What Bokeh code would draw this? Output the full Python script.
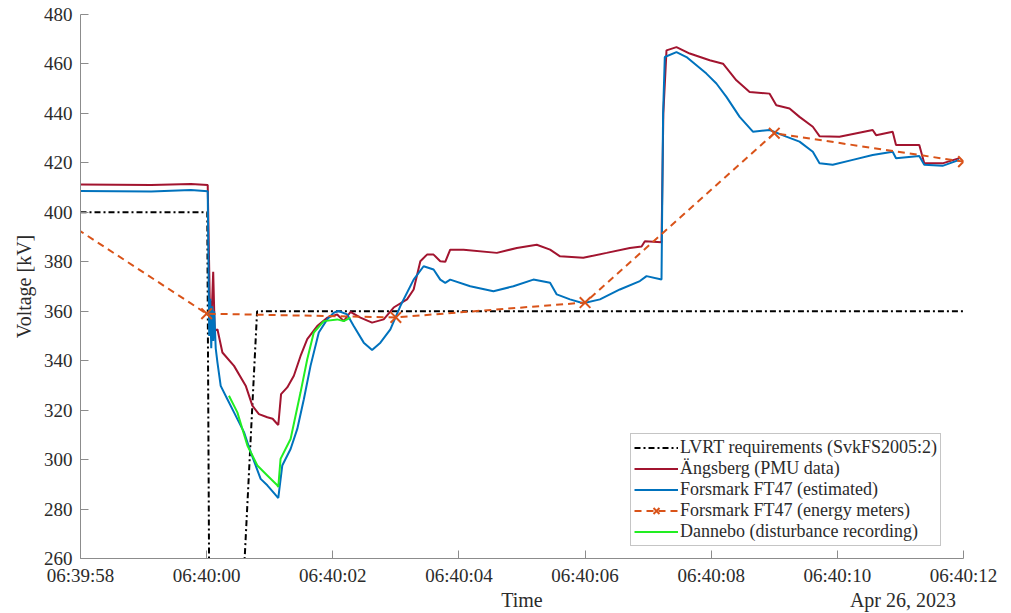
from datetime import datetime, timezone
from bokeh.plotting import figure
from bokeh.models import (Range1d, FixedTicker, DatetimeTickFormatter, Legend,
                          LegendItem, DatetimeAxis)
from bokeh.embed import file_html
from bokeh.resources import INLINE

# ---------------- data (time in seconds after 06:39:58, 26 Apr 2023) ----------------
x_tick_seconds = [0, 2, 4, 6, 8, 10, 12, 14]
y_ticks = [260, 280, 300, 320, 340, 360, 380, 400, 420, 440, 460, 480]

lvrt_t = [0.0, 2.01, 2.09, 2.09, 2.80, 14.0]
lvrt_v = [400, 400, 0, 0, 360, 360]

angs_t = [0.0, 1.12, 1.75, 2.017, 2.049, 2.081, 2.104, 2.128, 2.171, 2.25, 2.434, 2.619,
          2.725, 2.829, 2.962, 3.046, 3.12, 3.136, 3.18, 3.278, 3.383, 3.489, 3.595, 3.753,
          3.911, 4.07, 4.174, 4.28, 4.438, 4.623, 4.807, 4.965, 5.177, 5.282, 5.388, 5.494,
          5.598, 5.704, 5.783, 5.862, 6.073, 6.601, 6.918, 7.234, 7.445, 7.603, 7.971,
          8.342, 8.71, 8.896, 8.948, 9.212, 9.241, 9.291, 9.449, 9.66, 9.976, 10.187,
          10.399, 10.609, 10.926, 11.032, 11.242, 11.4, 11.611, 11.717, 12.033, 12.56,
          12.614, 12.877, 12.93, 13.299, 13.378, 13.668, 13.934]
angs_v = [411.3, 411.0, 411.5, 411.0, 365.0, 360.0, 376.0, 352.0, 352.7, 343.3, 337.9, 329.9,
          321.8, 318.4, 317.1, 316.5, 314.4, 314.0, 326.5, 329.2, 333.9, 341.9, 348.7, 354.0,
          357.4, 358.7, 356.0, 359.7, 357.4, 355.4, 356.7, 361.5, 364.8, 368.8, 380.2, 382.9,
          382.9, 380.2, 380.0, 384.9, 384.9, 383.6, 385.6, 386.9, 384.9, 382.2, 381.6,
          383.6, 385.6, 386.2, 388.3, 387.9, 440.0, 465.5, 466.8, 464.2, 461.5, 460.1,
          453.4, 448.7, 448.0, 443.3, 442.0, 438.6, 434.6, 430.8, 430.6, 433.3,
          431.2, 432.6, 427.2, 427.2, 419.8, 419.8, 421.9]

fors_t = [0.0, 1.12, 1.75, 2.017, 2.041, 2.057, 2.073, 2.089, 2.104, 2.12, 2.144, 2.171,
          2.223, 2.329, 2.434, 2.592, 2.698, 2.856, 2.962, 3.12, 3.136, 3.199, 3.331, 3.437,
          3.541, 3.647, 3.778, 3.911, 4.016, 4.09, 4.228, 4.332, 4.491, 4.623, 4.755, 4.913,
          5.071, 5.282, 5.44, 5.598, 5.704, 5.783, 5.862, 6.179, 6.547, 6.864, 7.18, 7.445,
          7.551, 7.761, 7.971, 8.236, 8.552, 8.869, 8.975, 9.212, 9.237, 9.264, 9.449,
          9.608, 9.924, 10.082, 10.241, 10.451, 10.661, 10.926, 11.19, 11.4, 11.611,
          11.717, 11.927, 12.244, 12.56, 12.877, 12.93, 13.299, 13.378, 13.668, 13.934]
fors_v = [408.6, 408.4, 409.0, 408.5, 350.0, 365.0, 345.0, 362.0, 348.0, 360.0, 345.0, 339.3,
          329.8, 324.4, 319.1, 311.1, 303.0, 292.2, 289.6, 284.9, 284.5, 297.6, 304.3, 312.4,
          324.4, 337.9, 351.4, 356.7, 359.4, 360.1, 358.7, 354.0, 347.3, 344.3, 347.3, 352.7,
          362.1, 372.8, 378.2, 376.9, 372.8, 371.5, 372.8, 370.1, 368.1, 370.1, 372.8, 371.5,
          366.8, 364.8, 363.2, 364.8, 368.8, 372.2, 374.2, 372.8, 440.0, 462.8, 464.8,
          462.8, 456.1, 452.1, 446.7, 438.6, 432.6, 433.3, 430.6, 428.6, 424.5,
          419.8, 419.2, 421.2, 423.2, 424.5, 421.9, 422.8, 419.2, 418.8, 421.2]

meter_t = [-1.0, 2.0, 5.0, 8.0, 11.0, 14.0]
meter_v = [409.0, 359.0, 357.5, 363.5, 432.0, 420.5]

dann_t = [2.354, 2.487, 2.646, 2.804, 2.962, 3.12, 3.136, 3.172, 3.331, 3.489, 3.595,
          3.699, 3.858, 4.07, 4.174, 4.28]
dann_v = [325.8, 319.1, 305.7, 297.6, 293.6, 289.6, 288.9, 300.3, 308.3, 327.2, 340.6,
          351.4, 356.0, 356.7, 356.0, 357.4]

labels = ["LVRT requirements (SvkFS2005:2)", "Ängsberg (PMU data)",
          "Forsmark FT47 (estimated)", "Forsmark FT47 (energy meters)",
          "Dannebo (disturbance recording)"]
bottom_texts = ["Time", "Apr 26, 2023"]
bottom_text_seconds = [7.0, 13.04]   # centre of each text along the time axis

# ---------------- helpers ----------------
BASE_MS = datetime(2023, 4, 26, 6, 39, 58, tzinfo=timezone.utc).timestamp() * 1000.0


def ms(ts):
    return [BASE_MS + s * 1000.0 for s in ts]


FONT = "Liberation Serif"
AFONT = "'Liberation Serif'"
TXT = "#2b2b2b"
AX = "#8c8c8c"

p = figure(width=1011, height=613, x_axis_type="datetime",
           x_range=Range1d(BASE_MS, BASE_MS + 14000.0), y_range=Range1d(260, 480),
           output_backend="svg", toolbar_location=None,
           min_border_left=80, min_border_right=48, min_border_top=14, min_border_bottom=53)
p.xgrid.visible = False
p.ygrid.visible = False
p.outline_line_color = None
p.background_fill_color = "white"
p.border_fill_color = "white"

r_lvrt = p.line(ms(lvrt_t), lvrt_v, line_color="black", line_width=2, line_dash="6 3 2 3")
r_ang = p.line(ms(angs_t), angs_v, line_color="#A2142F", line_width=2)
r_for = p.line(ms(fors_t), fors_v, line_color="#0072BD", line_width=2)
r_mline = p.line(ms(meter_t), meter_v, line_color="#D95319", line_width=2, line_dash="7 5")
r_mpts = p.scatter(ms(meter_t), meter_v, marker="x", size=15, line_color="#D95319",
                   line_width=2)
r_dan = p.line(ms(dann_t), dann_v, line_color="#22EE22", line_width=2)

# axes
fmt = "%H:%M:%S"
p.xaxis.formatter = DatetimeTickFormatter(milliseconds=fmt, seconds=fmt, minsec=fmt,
                                          minutes=fmt, hourmin=fmt, hours=fmt)
p.xaxis.ticker = FixedTicker(ticks=ms(x_tick_seconds))
p.yaxis.ticker = FixedTicker(ticks=y_ticks)
for ax in (p.xaxis, p.yaxis):
    ax.axis_line_color = AX
    ax.major_tick_line_color = AX
    ax.major_tick_in = 8
    ax.major_tick_out = 0
    ax.minor_tick_line_color = None
    ax.major_label_text_font = AFONT
    ax.major_label_text_font_size = "19px"
    ax.major_label_text_color = TXT
    ax.major_label_standoff = 8
    ax.axis_label_text_font = AFONT
    ax.axis_label_text_font_size = "20px"
    ax.axis_label_text_font_style = "normal"
    ax.axis_label_text_color = TXT
p.xaxis.major_label_standoff = 6
p.yaxis.axis_label = "Voltage [kV]"
p.yaxis.axis_label_standoff = 6

# second row under the time axis: "Time" in the middle, the date at the right end
bt_ms = ms(bottom_text_seconds)
row2 = DatetimeAxis(ticker=FixedTicker(ticks=bt_ms),
                    major_label_overrides={k: v for k, v in zip(bt_ms, bottom_texts)},
                    axis_line_color=None, major_tick_line_color=None,
                    minor_tick_line_color=None, major_tick_in=0, major_tick_out=0,
                    major_label_standoff=0, major_label_text_font=AFONT,
                    major_label_text_font_size="20px", major_label_text_color=TXT)
p.add_layout(row2, "below")

legend = Legend(items=[
    LegendItem(label=labels[0], renderers=[r_lvrt]),
    LegendItem(label=labels[1], renderers=[r_ang]),
    LegendItem(label=labels[2], renderers=[r_for]),
    LegendItem(label=labels[3], renderers=[r_mline, r_mpts]),
    LegendItem(label=labels[4], renderers=[r_dan]),
], location=(550, 12))
legend.label_text_font = FONT
legend.label_text_font_size = "18px"
legend.label_text_color = TXT
legend.glyph_width = 44
legend.glyph_height = 21
legend.label_height = 21
legend.spacing = 0
legend.padding = 3
legend.margin = 0
legend.label_standoff = 2
legend.border_line_color = AX
legend.border_line_width = 1
legend.background_fill_alpha = 1
p.add_layout(legend)

open("out.html", "w").write(file_html(p, INLINE))
